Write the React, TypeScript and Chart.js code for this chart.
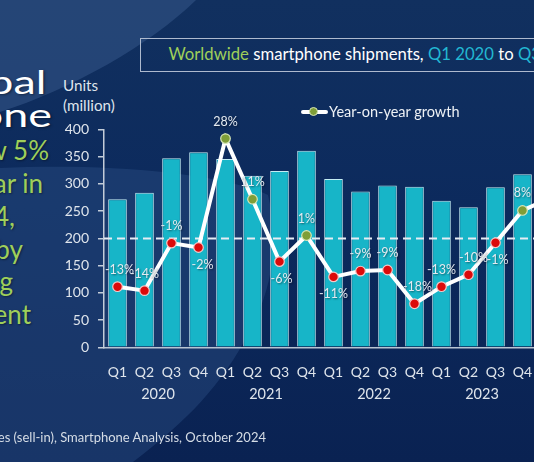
import React, { useEffect, useRef } from "react";
import { Chart, registerables } from "chart.js";

Chart.register(...registerables);

// ---------- data ----------
const quarters = ["Q1","Q2","Q3","Q4","Q1","Q2","Q3","Q4","Q1","Q2","Q3","Q4","Q1","Q2","Q3","Q4","Q1","Q2","Q3"];
const years = ["2020", "2021", "2022", "2023", "2024"];
const shipments = [272, 284, 347, 358, 346, 315, 324, 361, 309, 286, 297, 295, 269, 257, 294, 318, 296, 288, 310];
const growth = [-13.3, -14.4, -1.3, -2.5, 27.5, 10.8, -6.4, 0.8, -10.6, -9.0, -8.7, -18.0, -13.3, -10.0, -1.2, 7.7, 11, 12, 5];
const labelSide = ["above","above","above","below","above","above","below","above","below","above","above","above","above","above","below","above","above","above","above"];
const labelNudge = [2, 0, 0, 4, 0, 0, 2, 0, 0, 0, 0, 3, 0, 5, 2, 0, 0, 0, 0];
const unitAxis = { min: 0, max: 400, step: 50 };
const growthAxis = { min: -30, max: 30 };

const FONT = "Lato, 'Open Sans', sans-serif";
const GREEN = "#9fcf5a";
const CYAN = "#22b8d2";

const yearPlugin = {
  id: "yearLabels",
  afterDraw(chart: any) {
    const x = chart.scales.x;
    const ctx = chart.ctx;
    ctx.save();
    ctx.font = `14.5px ${FONT}`;
    ctx.fillStyle = "#dfe5ec";
    ctx.textAlign = "center";
    ctx.textBaseline = "middle";
    years.forEach((yr, i) => {
      const first = i * 4;
      const last = Math.min(i * 4 + 3, quarters.length - 1);
      if (first > quarters.length - 1) return;
      const mid = (x.getPixelForValue(first) + x.getPixelForValue(last)) / 2;
      ctx.fillText(yr, mid, x.top + 47.5);
    });
    ctx.restore();
  },
};

const zeroLinePlugin = {
  id: "zeroLine",
  beforeDatasetDraw(chart: any, args: any) {
    if (args.index !== 1) return;
    const y1 = chart.scales.y1;
    const { left, right } = chart.chartArea;
    const y = y1.getPixelForValue(0);
    const ctx = chart.ctx;
    ctx.save();
    ctx.strokeStyle = "#e6ecf3";
    ctx.lineWidth = 2;
    ctx.setLineDash([8, 5]);
    ctx.beginPath();
    ctx.moveTo(left, y);
    ctx.lineTo(right, y);
    ctx.stroke();
    ctx.restore();
  },
};

const valueLabelPlugin = {
  id: "valueLabels",
  afterDatasetsDraw(chart: any) {
    const meta = chart.getDatasetMeta(1);
    const ctx = chart.ctx;
    ctx.save();
    ctx.font = `12.5px ${FONT}`;
    ctx.textAlign = "center";
    ctx.textBaseline = "middle";
    ctx.shadowColor = "rgba(0,0,0,0.45)";
    ctx.shadowBlur = 2;
    ctx.shadowOffsetX = 1;
    ctx.shadowOffsetY = 1;
    ctx.fillStyle = "#e4eaf1";
    meta.data.forEach((pt: any, i: number) => {
      const txt = `${Math.round(growth[i])}%`;
      const dy = labelSide[i] === "below" ? 17 : -17;
      ctx.fillText(txt, pt.x + labelNudge[i], pt.y + dy);
    });
    ctx.restore();
  },
};

function ChartCanvas() {
  const ref = useRef<HTMLCanvasElement | null>(null);
  useEffect(() => {
    if (!ref.current) return;
    const chart = new Chart(ref.current, {
      type: "bar",
      data: {
        labels: quarters,
        datasets: [
          {
            type: "bar",
            label: "Units (million)",
            data: shipments,
            yAxisID: "y",
            backgroundColor: "#17b5c8",
            borderColor: "#c4edf3",
            borderWidth: 1,
            barPercentage: 0.69,
            categoryPercentage: 1,
            order: 1,
          } as any,
          {
            type: "line",
            label: "Year-on-year growth",
            data: growth,
            yAxisID: "y1",
            borderColor: "#ffffff",
            borderWidth: 4,
            tension: 0,
            pointRadius: 4.8,
            pointBorderWidth: 1.2,
            pointBackgroundColor: (c: any) => (growth[c.dataIndex] >= 0 ? "#7f9e38" : "#dc0a0a"),
            pointBorderColor: (c: any) => (growth[c.dataIndex] >= 0 ? "#d7e6b8" : "#f2c9c9"),
            order: 0,
          } as any,
        ],
      },
      options: {
        responsive: false,
        animation: false,
        events: [],
        layout: { padding: { left: 0, right: 23, top: 129.5, bottom: 74.7 } },
        plugins: { legend: { display: false }, tooltip: { enabled: false }, title: { display: false } },
        scales: {
          x: {
            type: "category",
            offset: true,
            grid: { display: false, drawTicks: false, drawOnChartArea: false },
            border: { display: true, color: "#b9c4d2", width: 1.5 },
            ticks: { color: "#dfe5ec", font: { size: 14, family: FONT }, padding: 17, maxRotation: 0, autoSkip: false },
            afterFit: (s: any) => { s.height = 40; },
          },
          y: {
            position: "left",
            min: unitAxis.min,
            max: unitAxis.max,
            grid: { drawOnChartArea: false, drawTicks: true, tickLength: 6, color: "#c3ccd8", lineWidth: 1.5 },
            border: { display: true, color: "#c3ccd8", width: 1.5 },
            ticks: { stepSize: unitAxis.step, color: "#dfe5ec", font: { size: 14, family: FONT }, padding: 9 },
            afterFit: (s: any) => { s.width = 104; },
          },
          y1: {
            display: false,
            min: growthAxis.min,
            max: growthAxis.max,
          },
        },
      } as any,
      plugins: [zeroLinePlugin, valueLabelPlugin, yearPlugin],
    });
    return () => chart.destroy();
  }, []);
  return (
    <canvas
      ref={ref}
      width={640}
      height={462}
      style={{ position: "absolute", left: 0, top: 0, width: 640, height: 462 }}
    />
  );
}

const leftLines = [
  { text: "Global", color: "#ffffff", end: 46, size: 32, stretch: 1.4 },
  { text: "smartphone", color: "#ffffff", end: 52, size: 32, stretch: 1.4 },
  { text: "grew 5%", color: GREEN, end: 49, size: 26, stretch: 1 },
  { text: "year on year in", color: GREEN, end: 43, size: 26, stretch: 1 },
  { text: "Q3 2024,", color: GREEN, end: 15, size: 26, stretch: 1 },
  { text: "driven by", color: GREEN, end: 23, size: 26, stretch: 1 },
  { text: "emerging", color: GREEN, end: 13, size: 26, stretch: 1 },
  { text: "segment", color: GREEN, end: 31, size: 26, stretch: 1 },
];

export default function App() {
  useEffect(() => {
    document.body.style.margin = "0";
  }, []);
  return (
    <div
      style={{
        position: "fixed",
        left: 0,
        top: 0,
        width: 534,
        height: 462,
        overflow: "hidden",
        background: "linear-gradient(180deg, #11305f 0%, #0c2a5d 45%, #0a2252 100%)",
        fontFamily: FONT,
      }}
    >
      <svg width={534} height={462} style={{ position: "absolute", left: 0, top: 0 }}>
        <path d="M0,0 L196,0 C150,45 70,90 0,112 Z" fill="#2d4f80" opacity={0.7} />
        <path
          d="M0,168 C100,163 220,172 268,195 C282,250 268,300 245,340 C215,395 175,430 133,462 L0,462 Z"
          fill="#2a4d82"
          opacity={0.45}
        />
      </svg>

      {leftLines.map((l, i) => {
        const L = 32.8;
        const baseline = 95 + i * L;
        const top = baseline - ((L - 1.2 * l.size) / 2 + 0.987 * l.size);
        return (
          <div
            key={i}
            style={{
              position: "absolute",
              right: 534 - l.end,
              top,
              fontSize: l.size,
              lineHeight: `${L}px`,
              color: l.color,
              whiteSpace: "nowrap",
              textShadow: "1px 1px 2px rgba(0,0,0,0.4)",
              transform: `scaleX(${l.stretch})`,
              transformOrigin: "right center",
            }}
          >
            {l.text}
          </div>
        );
      })}

      <div
        style={{
          position: "absolute",
          left: 139.5,
          top: 37.5,
          width: 600,
          height: 34,
          boxSizing: "border-box",
          border: "1.5px solid #aebace",
        }}
      />
      <div
        style={{
          position: "absolute",
          left: 168.5,
          top: 43,
          fontSize: 16.7,
          lineHeight: "22px",
          whiteSpace: "nowrap",
          color: "#ffffff",
        }}
      >
        <span style={{ color: GREEN }}>Worldwide</span> smartphone shipments,{" "}
        <span style={{ color: CYAN }}>Q1 2020</span> to <span style={{ color: CYAN }}>Q3 2024</span>
      </div>

      <div
        style={{
          position: "absolute",
          left: 63,
          top: 74.7,
          fontSize: 15.2,
          lineHeight: "20.6px",
          color: "#dfe5ec",
          whiteSpace: "nowrap",
        }}
      >
        Units
        <br />
        (million)
      </div>

      <ChartCanvas />

      {/* legend */}
      <div style={{ position: "absolute", left: 301, top: 109.5, width: 27, height: 4, background: "#ffffff", borderRadius: 2 }} />
      <div
        style={{
          position: "absolute",
          left: 308.5,
          top: 107,
          width: 9,
          height: 9,
          borderRadius: "50%",
          background: "#7f9e38",
          boxSizing: "border-box",
          border: "1px solid #d7e6b8",
        }}
      />
      <div
        style={{
          position: "absolute",
          left: 329,
          top: 102,
          fontSize: 14.5,
          lineHeight: "20px",
          color: "#eef2f6",
          whiteSpace: "nowrap",
        }}
      >
        Year-on-year growth
      </div>

      <div
        style={{
          position: "absolute",
          right: 534 - 266,
          top: 428,
          fontSize: 13,
          lineHeight: "18px",
          color: "#d6dde6",
          whiteSpace: "nowrap",
        }}
      >
        Source: Canalys estimates (sell-in), Smartphone Analysis, October 2024
      </div>
    </div>
  );
}
